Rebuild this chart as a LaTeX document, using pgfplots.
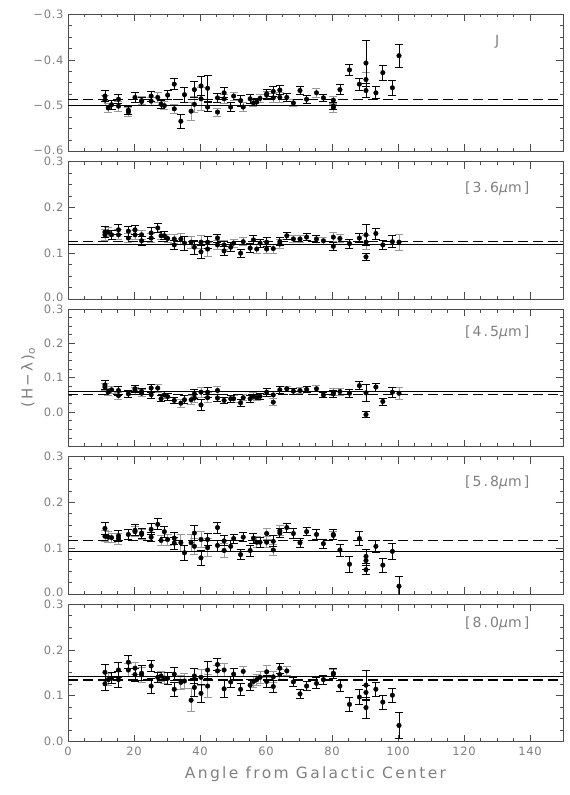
\documentclass[border=0pt]{standalone}
\usepackage{fontspec}
\usepackage{pgfplots}
\usepackage{pgfplotstable}
\pgfplotsset{compat=1.18}
\newfontfamily\hfont[LetterSpace=15]{DejaVu Sans}
\newfontfamily\tfont[LetterSpace=6]{DejaVu Sans}
\definecolor{lbl}{gray}{0.5}
\definecolor{ebg}{gray}{0.6}

\pgfplotstableread{
x y e g
11.2 -0.479 0.012 1
11.2 -0.488 0.011 0
12.2 -0.505 0.010 0
13.2 -0.498 0.010 1
15.3 -0.486 0.010 1
15.3 -0.501 0.011 0
18.3 -0.510 0.009 1
18.3 -0.514 0.010 0
20.3 -0.482 0.010 1
22.3 -0.489 0.009 0
22.3 -0.491 0.008 1
25.2 -0.479 0.011 1
25.2 -0.490 0.009 0
27.2 -0.482 0.011 0
28.2 -0.497 0.008 1
29.2 -0.500 0.009 0
30.2 -0.477 0.010 1
32.2 -0.453 0.012 1
32.2 -0.507 0.010 0
34.2 -0.534 0.016 1
35.3 -0.476 0.016 1
37.3 -0.512 0.020 0
38.3 -0.465 0.018 1
38.3 -0.497 0.018 0
40.3 -0.457 0.020 1
40.3 -0.485 0.025 0
42.3 -0.462 0.028 1
42.3 -0.503 0.010 1
45.3 -0.483 0.010 1
45.3 -0.514 0.009 0
47.3 -0.472 0.011 1
47.3 -0.485 0.010 0
49.3 -0.503 0.010 1
50.2 -0.479 0.009 0
52.3 -0.489 0.012 1
53.1 -0.503 0.010 0
55.2 -0.485 0.009 1
56.2 -0.494 0.008 0
57.2 -0.492 0.008 1
58.2 -0.484 0.008 0
60.2 -0.474 0.010 1
60.2 -0.477 0.009 0
62.2 -0.469 0.011 1
62.2 -0.483 0.009 0
64.2 -0.466 0.010 1
64.2 -0.482 0.010 0
66.3 -0.482 0.008 1
68.3 -0.494 0.008 0
70.3 -0.467 0.009 1
72.3 -0.486 0.009 1
75.3 -0.472 0.009 0
77.4 -0.483 0.008 1
80.4 -0.488 0.009 0
80.4 -0.501 0.008 1
80.4 -0.504 0.010 0
82.4 -0.465 0.011 1
85.3 -0.422 0.013 1
88.3 -0.453 0.013 1
90.3 -0.407 0.050 1
90.3 -0.443 0.015 0
90.3 -0.467 0.015 1
93.3 -0.472 0.013 1
95.4 -0.428 0.016 1
98.3 -0.461 0.016 1
100.3 -0.391 0.025 1
}\tJ

\pgfplotstableread{
x y e g
11.2 0.146 0.012 1
11.2 0.140 0.012 0
12.2 0.146 0.010 0
13.2 0.140 0.010 1
15.3 0.151 0.011 1
15.3 0.140 0.011 0
18.3 0.148 0.011 1
18.3 0.133 0.010 0
20.3 0.151 0.010 1
20.3 0.140 0.010 0
22.3 0.140 0.010 0
22.3 0.127 0.010 1
25.2 0.144 0.012 1
25.2 0.133 0.010 0
27.2 0.155 0.010 1
28.2 0.138 0.009 0
29.2 0.138 0.009 1
30.2 0.132 0.009 0
32.2 0.131 0.010 0
32.2 0.118 0.010 1
34.2 0.131 0.012 0
35.3 0.122 0.015 1
37.3 0.124 0.013 0
38.3 0.113 0.015 1
40.3 0.124 0.014 0
40.3 0.103 0.015 1
42.3 0.124 0.013 1
42.3 0.109 0.015 0
45.3 0.133 0.009 1
45.3 0.118 0.009 0
47.3 0.118 0.010 0
47.3 0.105 0.010 1
49.3 0.113 0.010 1
50.2 0.122 0.009 0
52.3 0.100 0.009 1
53.1 0.125 0.009 0
55.2 0.111 0.010 1
56.2 0.129 0.010 1
57.2 0.109 0.010 0
58.2 0.122 0.009 1
60.2 0.124 0.010 1
60.2 0.109 0.010 0
62.2 0.110 0.010 0
64.2 0.125 0.009 1
64.2 0.120 0.009 0
66.3 0.138 0.008 1
68.3 0.131 0.008 0
70.3 0.131 0.008 0
72.3 0.135 0.008 1
75.3 0.131 0.008 1
77.4 0.127 0.008 0
80.4 0.135 0.010 0
80.4 0.115 0.009 1
82.4 0.132 0.009 0
85.3 0.121 0.010 1
88.3 0.133 0.010 1
90.3 0.140 0.022 1
90.3 0.124 0.015 0
90.3 0.092 0.008 1
93.3 0.143 0.012 1
95.4 0.118 0.010 1
98.3 0.125 0.013 1
100.3 0.124 0.018 0
}\tA

\pgfplotstableread{
x y e g
11.2 0.079 0.012 1
11.2 0.073 0.010 0
12.2 0.058 0.010 0
13.2 0.065 0.010 0
15.3 0.063 0.013 1
15.3 0.048 0.010 0
18.3 0.053 0.010 1
20.3 0.068 0.011 1
20.3 0.063 0.010 0
22.3 0.055 0.010 0
22.3 0.060 0.009 1
25.2 0.070 0.012 1
25.2 0.051 0.010 1
27.2 0.070 0.012 0
28.2 0.039 0.009 1
29.2 0.050 0.010 0
30.2 0.045 0.010 1
32.2 0.034 0.010 1
34.2 0.026 0.012 0
35.3 0.036 0.012 1
37.3 0.036 0.013 0
38.3 0.053 0.012 1
38.3 0.041 0.012 0
40.3 0.058 0.014 0
40.3 0.021 0.015 1
42.3 0.058 0.014 1
42.3 0.042 0.014 0
45.3 0.063 0.012 0
45.3 0.041 0.010 1
47.3 0.034 0.010 1
49.3 0.039 0.010 1
50.2 0.039 0.010 0
52.3 0.027 0.010 1
53.1 0.042 0.009 0
55.2 0.039 0.010 1
56.2 0.046 0.010 0
57.2 0.042 0.009 0
58.2 0.046 0.009 1
60.2 0.058 0.012 1
62.2 0.050 0.011 0
62.2 0.029 0.010 0
64.2 0.065 0.010 1
66.3 0.068 0.008 0
68.3 0.061 0.008 1
70.3 0.063 0.008 0
72.3 0.066 0.008 1
75.3 0.068 0.009 0
77.4 0.050 0.008 1
80.4 0.058 0.010 0
80.4 0.053 0.010 1
82.4 0.060 0.010 0
85.3 0.055 0.012 1
88.3 0.077 0.012 1
90.3 0.056 0.025 1
90.3 -0.007 0.008 1
93.3 0.073 0.012 1
95.4 0.031 0.010 1
98.3 0.058 0.014 1
100.3 0.055 0.018 0
}\tB

\pgfplotstableread{
x y e g
11.2 0.143 0.013 1
11.2 0.126 0.012 0
12.2 0.124 0.012 0
13.2 0.123 0.010 0
15.3 0.127 0.012 1
15.3 0.121 0.012 0
18.3 0.130 0.011 1
20.3 0.139 0.012 1
20.3 0.136 0.011 0
22.3 0.133 0.011 1
22.3 0.130 0.010 0
25.2 0.141 0.012 1
25.2 0.124 0.010 1
27.2 0.152 0.012 1
28.2 0.117 0.011 0
29.2 0.136 0.012 1
30.2 0.119 0.012 0
32.2 0.122 0.013 1
32.2 0.111 0.013 1
34.2 0.112 0.018 0
35.3 0.090 0.017 1
37.3 0.112 0.018 0
38.3 0.133 0.017 1
38.3 0.104 0.018 0
40.3 0.119 0.017 0
40.3 0.079 0.016 1
42.3 0.119 0.013 1
42.3 0.101 0.020 0
45.3 0.145 0.012 1
45.3 0.106 0.012 1
47.3 0.116 0.011 1
47.3 0.095 0.015 0
49.3 0.104 0.012 1
50.2 0.121 0.010 1
52.3 0.086 0.011 1
53.1 0.124 0.010 1
55.2 0.095 0.012 1
56.2 0.122 0.011 1
57.2 0.113 0.012 0
58.2 0.113 0.011 1
60.2 0.132 0.012 0
60.2 0.113 0.012 0
62.2 0.115 0.012 1
62.2 0.096 0.012 0
64.2 0.138 0.011 0
64.2 0.133 0.010 1
66.3 0.145 0.010 1
68.3 0.132 0.011 1
70.3 0.112 0.010 1
72.3 0.136 0.009 1
75.3 0.130 0.010 1
77.4 0.110 0.010 1
80.4 0.130 0.010 1
80.4 0.128 0.009 0
82.4 0.096 0.013 1
85.3 0.065 0.017 1
88.3 0.121 0.015 1
90.3 0.082 0.015 1
90.3 0.073 0.020 1
90.3 0.053 0.010 1
93.3 0.104 0.014 1
95.4 0.063 0.015 1
98.3 0.093 0.017 1
100.3 0.017 0.022 1
}\tC

\pgfplotstableread{
x y e g
11.2 0.151 0.017 1
11.2 0.126 0.015 1
12.2 0.135 0.013 0
13.2 0.138 0.012 1
15.3 0.156 0.016 1
15.3 0.135 0.017 1
18.3 0.173 0.014 1
18.3 0.156 0.014 0
20.3 0.160 0.013 0
20.3 0.146 0.014 1
22.3 0.149 0.016 1
22.3 0.146 0.016 0
25.2 0.165 0.013 1
25.2 0.121 0.016 1
27.2 0.140 0.011 1
28.2 0.143 0.011 0
29.2 0.138 0.012 0
30.2 0.138 0.013 1
32.2 0.147 0.014 1
32.2 0.114 0.015 1
34.2 0.129 0.015 0
35.3 0.132 0.016 0
37.3 0.090 0.025 0
38.3 0.143 0.016 1
38.3 0.118 0.020 1
40.3 0.140 0.018 0
40.3 0.105 0.020 1
42.3 0.156 0.018 1
42.3 0.121 0.025 0
45.3 0.168 0.013 1
45.3 0.154 0.013 0
47.3 0.156 0.015 0
47.3 0.115 0.018 1
49.3 0.130 0.013 1
50.2 0.147 0.012 1
52.3 0.114 0.013 1
53.1 0.153 0.011 0
55.2 0.123 0.012 1
56.2 0.131 0.012 0
57.2 0.135 0.012 0
58.2 0.140 0.013 0
60.2 0.152 0.013 0
60.2 0.131 0.013 1
62.2 0.120 0.013 1
62.2 0.141 0.012 0
64.2 0.160 0.011 1
64.2 0.146 0.012 0
66.3 0.154 0.010 0
68.3 0.130 0.010 1
70.3 0.104 0.010 1
72.3 0.121 0.010 1
75.3 0.127 0.012 1
77.4 0.135 0.010 1
80.4 0.149 0.011 1
80.4 0.147 0.010 0
82.4 0.121 0.012 1
85.3 0.081 0.015 1
88.3 0.097 0.016 1
90.3 0.123 0.033 1
90.3 0.107 0.015 1
90.3 0.074 0.023 1
93.3 0.114 0.015 1
95.4 0.086 0.015 1
98.3 0.101 0.015 1
100.3 0.035 0.028 1
}\tD

\pgfplotsset{
  panel/.style={
    scale only axis, width=495pt, height=137.5pt,
    anchor=north west,
    xmin=0, xmax=150,
    xtick={0,20,...,140}, minor x tick num=3, minor y tick num=3,
    tick align=inside, xtick pos=both, ytick pos=both,
    major tick length=7pt, minor tick length=3.5pt,
    axis line style={black!70, line width=0.7pt},
    every tick/.style={black!70, line width=0.6pt},
    tick label style={text=lbl, font=\tfont\fontsize{11.5}{13}\selectfont},
    yticklabel style={xshift=-1pt},
    xticklabel style={yshift=-2pt},
    clip=true,
  },
  grayerr/.style={only marks, mark=*, mark size=2.3pt, black,
    restrict expr to domain={\thisrow{g}}{-0.5:0.5},
    error bars/.cd, y dir=both, y explicit,
    error bar style={ebg, line width=0.8pt},
    error mark options={rotate=90, mark size=4pt, ebg, line width=0.8pt}},
  blackerr/.style={only marks, mark=*, mark size=2.3pt, black,
    restrict expr to domain={\thisrow{g}}{0.5:1.5},
    error bars/.cd, y dir=both, y explicit,
    error bar style={black, line width=0.8pt},
    error mark options={rotate=90, mark size=4pt, black, line width=0.8pt}},
  solidl/.style={black, line width=1pt},
  dashl/.style={black, line width=1.4pt, dash pattern=on 10pt off 5pt},
}
\newcommand{\lblfont}{\hfont\fontsize{14}{16}\selectfont}
\newcommand{\up}[1]{\raisebox{3pt}{#1}}
\newcommand{\dn}[1]{\raisebox{-4pt}{#1}}

\begin{document}
\begin{tikzpicture}
\path[use as bounding box] (0,0) rectangle (570pt,-795pt);

\begin{axis}[panel, at={(68pt,-14pt)}, ymin=-0.6, ymax=-0.3,
  ytick={-0.6,-0.5,-0.4,-0.3}, yticklabels={\up{−0.6},−0.5,−0.4,−0.3}, xticklabels={}]
\addplot[grayerr] table[x=x,y=y,y error=e]{\tJ};
\addplot[blackerr] table[x=x,y=y,y error=e]{\tJ};
\addplot[solidl] coordinates {(0,-0.500) (150,-0.500)};
\addplot[dashl] coordinates {(0,-0.486) (150,-0.486)};
\node[font=\lblfont, text=lbl] at (rel axis cs:0.867,0.80) {J};
\end{axis}

\begin{axis}[panel, at={(68pt,-161.5pt)}, ymin=0, ymax=0.3,
  ytick={0,0.1,0.2,0.3}, yticklabels={\up{0.0},0.1,0.2,\dn{0.3}}, xticklabels={}]
\addplot[grayerr] table[x=x,y=y,y error=e]{\tA};
\addplot[blackerr] table[x=x,y=y,y error=e]{\tA};
\addplot[solidl] coordinates {(0,0.120) (150,0.120)};
\addplot[dashl] coordinates {(0,0.126) (150,0.126)};
\node[font=\lblfont, text=lbl] at (rel axis cs:0.867,0.80) {[3.6{\itshape μ}m]};
\end{axis}

\begin{axis}[panel, at={(68pt,-309pt)}, ymin=-0.1, ymax=0.3,
  ytick={-0.1,0,0.1,0.2,0.3}, yticklabels={,0.0,0.1,0.2,\dn{0.3}}, xticklabels={},
  ylabel={(H−λ)\textsubscript{o}},
  ylabel style={font=\hfont\fontsize{15}{17}\selectfont, text=lbl, yshift=2pt}]
\addplot[grayerr] table[x=x,y=y,y error=e]{\tB};
\addplot[blackerr] table[x=x,y=y,y error=e]{\tB};
\addplot[solidl] coordinates {(0,0.059) (150,0.059)};
\addplot[dashl] coordinates {(0,0.052) (150,0.052)};
\node[font=\lblfont, text=lbl] at (rel axis cs:0.867,0.83) {[4.5{\itshape μ}m]};
\end{axis}

\begin{axis}[panel, at={(68pt,-456.5pt)}, ymin=0, ymax=0.3,
  ytick={0,0.1,0.2,0.3}, yticklabels={\up{0.0},0.1,0.2,\dn{0.3}}, xticklabels={}]
\addplot[grayerr] table[x=x,y=y,y error=e]{\tC};
\addplot[blackerr] table[x=x,y=y,y error=e]{\tC};
\addplot[solidl] coordinates {(0,0.092) (150,0.092)};
\addplot[dashl] coordinates {(0,0.117) (150,0.117)};
\node[font=\lblfont, text=lbl] at (rel axis cs:0.867,0.81) {[5.8{\itshape μ}m]};
\end{axis}

\begin{axis}[panel, at={(68pt,-604pt)}, ymin=0, ymax=0.3,
  ytick={0,0.1,0.2,0.3}, yticklabels={0.0,0.1,0.2,\dn{0.3}},
  xticklabels={0,20,40,60,80,100,120,140},
  xlabel={Angle from Galactic Center},
  xlabel style={font=\hfont\fontsize{15.5}{18}\selectfont, text=lbl, yshift=-4pt}]
\addplot[grayerr] table[x=x,y=y,y error=e]{\tD};
\addplot[blackerr] table[x=x,y=y,y error=e]{\tD};
\addplot[solidl] coordinates {(0,0.141) (150,0.141)};
\addplot[dashl] coordinates {(0,0.134) (150,0.134)};
\node[font=\lblfont, text=lbl] at (rel axis cs:0.867,0.86) {[8.0{\itshape μ}m]};
\end{axis}
\end{tikzpicture}
\end{document}
